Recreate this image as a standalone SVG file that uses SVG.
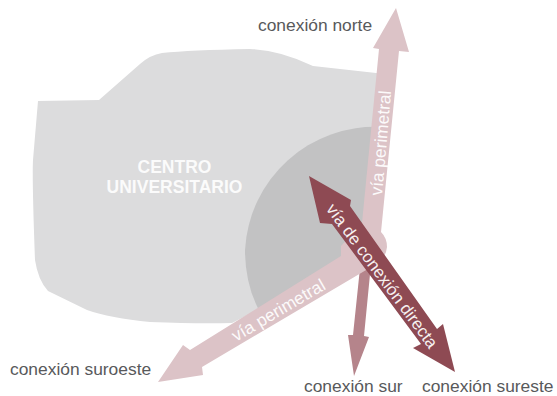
<svg xmlns="http://www.w3.org/2000/svg" width="557" height="396" viewBox="0 0 557 396">
<style>
text{font-family:"Liberation Sans",Arial,sans-serif}
.lab{font-size:17.4px;fill:#58595b}
.on{fill:#fff;font-size:17.4px;opacity:.92}
.c{fill:#fff;opacity:.9;font-size:17.5px;font-weight:bold;text-anchor:middle}
</style>
<rect width="557" height="396" fill="#fff"/>
<g id="campus">
<path d="M38 101L99 100L140 64Q150 55 162 53Q190 50 250 49Q280 50 313 66L385 74L376 250L232 323Q200 324 150 322Q110 318 87 310L48 291Q38 280 35 260Q32 180 33 160Z" fill="#dcdcdd"/>
<path d="M381 127A130 130 0 0 0 245 250Q245 285 260 312L345 262L378 232Z" fill="#c2c2c3"/>
<text class="c" x="174.500" y="173">CENTRO</text>
<text class="c" x="174.500" y="193">UNIVERSITARIO</text>
</g>
<g id="connectors">
<path id="sur" d="M360 268L371 264L364 336L369 337L354 376L348 335L353 335Z" fill="#b5848b"/>
<path id="perimetral" d="M379 49L373 48L396 8L409 52L399 51L381 232Q387 238 387 247Q386 257 378 263L202 367L203 375L158 382L183 345L190 350L341 256L341 246L362 223Z" fill="#dcc3c7"/>
<path id="directa" d="M309 176L351 200L350 206L437 329L443 324L455 372L413 348L421 344L332 224L320 223Z" fill="#8e4a53"/>
</g>
<g id="labels">
<text class="on" transform="translate(382 196) rotate(-85)">vía perimetral</text>
<text class="on" transform="translate(236 342) rotate(-30.5)">vía perimetral</text>
<text class="on" transform="translate(325.500 209) rotate(53.5)" style="font-size:17px">vía de conexión directa</text>
<text class="lab" x="258" y="31">conexión norte</text>
<text class="lab" x="10" y="375">conexión suroeste</text>
<text class="lab" x="304" y="392">conexión sur</text>
<text class="lab" x="422" y="392">conexión sureste</text>
</g>
</svg>
